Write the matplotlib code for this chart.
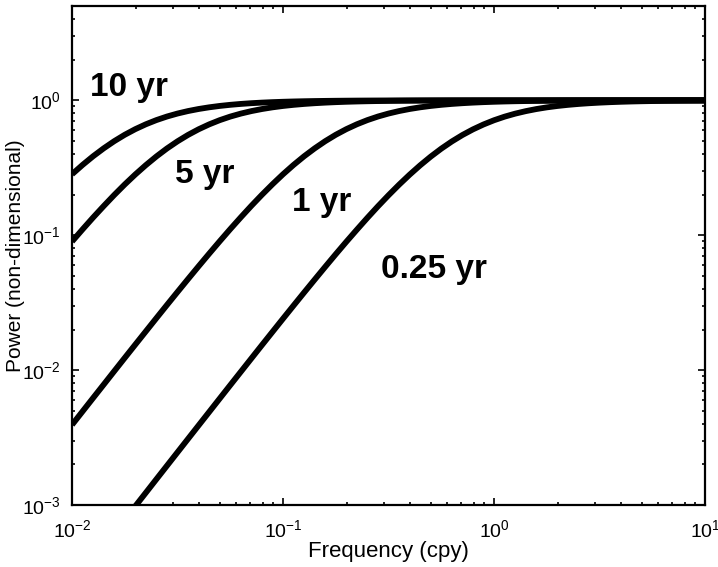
import matplotlib
matplotlib.use('Agg')
import matplotlib.pyplot as plt

plt.rcParams['font.family'] = ['Liberation Sans', 'DejaVu Sans']
plt.rcParams['mathtext.fontset'] = 'custom'
plt.rcParams['mathtext.rm'] = 'Liberation Sans'

# Frecuencias (cpy), 20 puntos por decada
freq = [0.01, 0.01122, 0.01259, 0.01413, 0.01585, 0.01778, 0.01995, 0.02239,
        0.02512, 0.02818, 0.03162, 0.03548, 0.03981, 0.04467, 0.05012, 0.05623,
        0.0631, 0.07079, 0.07943, 0.08913,
        0.1, 0.1122, 0.1259, 0.1413, 0.1585, 0.1778, 0.1995, 0.2239,
        0.2512, 0.2818, 0.3162, 0.3548, 0.3981, 0.4467, 0.5012, 0.5623,
        0.631, 0.7079, 0.7943, 0.8913,
        1.0, 1.122, 1.259, 1.413, 1.585, 1.778, 1.995, 2.239,
        2.512, 2.818, 3.162, 3.548, 3.981, 4.467, 5.012, 5.623,
        6.31, 7.079, 7.943, 8.913, 10.0]

# Potencia (adimensional)
p_10yr = [0.2831, 0.3320, 0.3849, 0.4406, 0.4979, 0.5553, 0.6112, 0.6643,
          0.7136, 0.7582, 0.7979, 0.8325, 0.8622, 0.8873, 0.9084, 0.9258,
          0.9402, 0.9519, 0.9614, 0.9691, 0.9753, 0.9803, 0.9843, 0.9875,
          0.9900, 0.9921, 0.9937, 0.9950, 0.9960, 0.9968, 0.9975, 0.9980,
          0.9984, 0.9987, 0.9990, 0.9992, 0.9994, 0.9995, 0.9996, 0.9997,
          0.9997, 0.9998, 0.9998, 0.9999, 0.9999, 0.9999, 1.0, 1.0,
          1.0, 1.0, 1.0, 1.0, 1.0, 1.0, 1.0, 1.0,
          1.0, 1.0, 1.0, 1.0, 1.0]

p_5yr = [0.0898, 0.1105, 0.1353, 0.1645, 0.1987, 0.2379, 0.2821, 0.3310,
         0.3838, 0.4395, 0.4967, 0.5541, 0.6100, 0.6632, 0.7126, 0.7574,
         0.7971, 0.8318, 0.8616, 0.8869, 0.9080, 0.9255, 0.9399, 0.9517,
         0.9612, 0.9690, 0.9752, 0.9802, 0.9842, 0.9874, 0.9900, 0.9920,
         0.9936, 0.9949, 0.9960, 0.9968, 0.9975, 0.9980, 0.9984, 0.9987,
         0.9990, 0.9992, 0.9994, 0.9995, 0.9996, 0.9997, 0.9997, 0.9998,
         0.9998, 0.9999, 0.9999, 0.9999, 1.0, 1.0, 1.0, 1.0,
         1.0, 1.0, 1.0, 1.0, 1.0]

p_1yr = [0.003932, 0.004945, 0.006218, 0.007815, 0.009820, 0.01233, 0.01547,
         0.01940, 0.02431, 0.03041, 0.03798, 0.04735, 0.05889, 0.07302,
         0.09022, 0.1110, 0.1358, 0.1652, 0.1994, 0.2387,
         0.2831, 0.3320, 0.3849, 0.4406, 0.4979, 0.5553, 0.6112, 0.6643,
         0.7136, 0.7582, 0.7979, 0.8325, 0.8622, 0.8873, 0.9084, 0.9258,
         0.9402, 0.9519, 0.9614, 0.9691, 0.9753, 0.9803, 0.9843, 0.9875,
         0.9900, 0.9921, 0.9937, 0.9950, 0.9960, 0.9968, 0.9975, 0.9980,
         0.9984, 0.9987, 0.9990, 0.9992, 0.9994, 0.9995, 0.9996, 0.9997,
         0.9997]

# la curva de 0.25 yr empieza en f ~ 0.02
freq_q = freq[6:]
p_q = [0.000981, 0.001235, 0.001555, 0.001956, 0.002461, 0.003096, 0.003895,
       0.004898, 0.006159, 0.007741, 0.009725, 0.01221, 0.01533, 0.01922,
       0.02408, 0.03012, 0.03763, 0.04692, 0.05835, 0.07237, 0.08943,
       0.1100, 0.1347, 0.1639, 0.1979, 0.2370, 0.2811, 0.3299, 0.3826,
       0.4382, 0.4955, 0.5529, 0.6089, 0.6621, 0.7116, 0.7565, 0.7963,
       0.8311, 0.8610, 0.8864, 0.9076, 0.9252, 0.9396, 0.9514, 0.9610,
       0.9688, 0.9751, 0.9801, 0.9841, 0.9873, 0.9899, 0.9920, 0.9936,
       0.9949, 0.9960]

labels = ['10 yr', '5 yr', '1 yr', '0.25 yr']
label_pos = [(0.0187, 1.25), (0.0426, 0.28), (0.152, 0.174), (0.52, 0.056)]

fig = plt.figure(figsize=(7.18, 5.67), dpi=100)
ax = fig.add_axes([0.1003, 0.1093, 0.8817, 0.8801])

for y in (p_10yr, p_5yr, p_1yr):
    ax.plot(freq, y, color='k', lw=4.2, solid_capstyle='butt')
ax.plot(freq_q, p_q, color='k', lw=4.2, solid_capstyle='butt')

for txt, (x, y) in zip(labels, label_pos):
    ax.text(x, y, txt, fontsize=24, fontweight='bold', ha='center', va='center')

ax.set_xscale('log')
ax.set_yscale('log')
ax.set_xlim(1e-2, 1e1)
ax.set_ylim(1e-3, 5)

ax.tick_params(which='both', direction='in', top=True, right=True, width=1.2,
               labelsize=14)
ax.tick_params(which='major', length=5)
ax.tick_params(which='minor', length=2.5)
ax.tick_params(axis='x', which='major', pad=10)
ax.tick_params(axis='y', which='major', pad=8)
for s in ax.spines.values():
    s.set_linewidth(1.6)

ax.set_xlabel('Frequency (cpy)', fontsize=16, labelpad=0)
ax.set_ylabel('Power (non-dimensional)', fontsize=15)
ax.yaxis.set_label_coords(-0.074, 0.5)

fig.savefig('out.png', dpi=100)
